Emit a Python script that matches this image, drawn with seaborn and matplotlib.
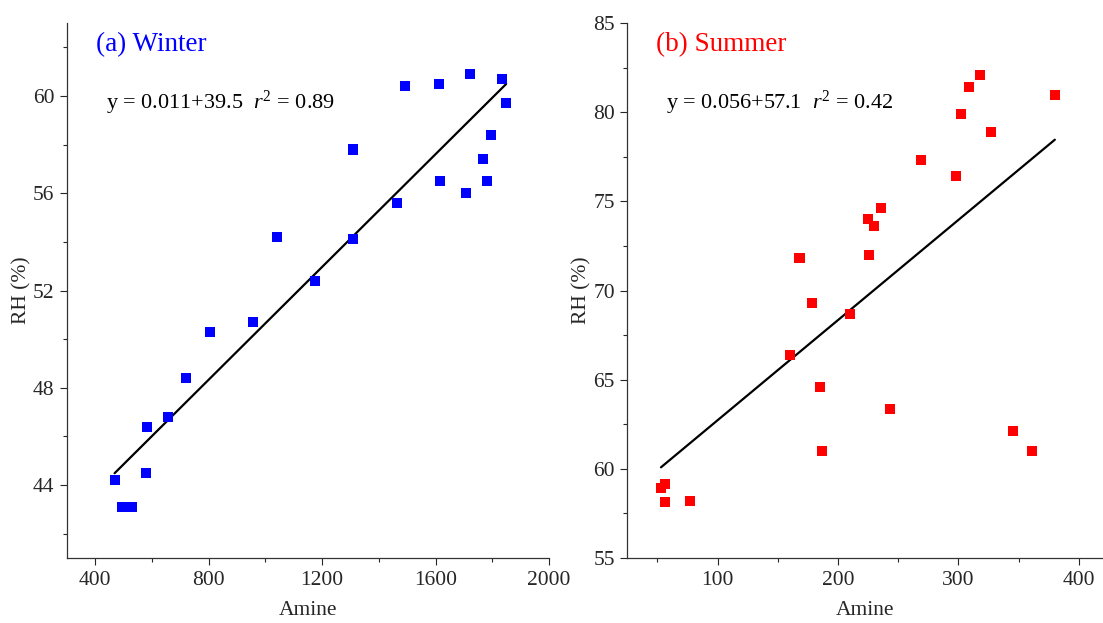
import matplotlib
matplotlib.use("Agg")
import matplotlib.pyplot as plt
import matplotlib.ticker as ticker
import pandas as pd
import seaborn as sns

# Winter: amine vs RH
winter_amine = [468, 495, 513, 530, 578, 584, 655, 719, 806, 957, 1041, 1176,
                1309, 1310, 1463, 1491, 1612, 1616, 1708, 1721, 1766, 1780,
                1795, 1835, 1849]
winter_rh = [44.2, 43.1, 43.1, 43.1, 44.5, 46.4, 46.8, 48.4, 50.3, 50.7, 54.2,
             52.4, 54.1, 57.8, 55.6, 60.4, 60.5, 56.5, 56.0, 60.9, 57.4, 56.5,
             58.4, 60.7, 59.7]

# Summer: amine vs RH
summer_amine = [53, 56, 56, 77, 160, 168, 178, 185, 187, 210, 225, 226, 230,
                236, 243, 269, 298, 302, 309, 318, 327, 345, 361, 380]
summer_rh = [58.9, 59.15, 58.15, 58.2, 66.4, 71.8, 69.3, 64.6, 61.0, 68.7,
             74.0, 72.0, 73.6, 74.65, 63.35, 77.3, 76.45, 79.9, 81.4, 82.1,
             78.9, 62.15, 61.0, 80.95]

winter_eq = "y = 0.011+39.5  $r^2$ = 0.89"
summer_eq = "y = 0.056+57.1  $r^2$ = 0.42"

sns.set_style("ticks")
plt.rcParams["font.family"] = ["Liberation Serif", "DejaVu Serif"]
plt.rcParams["mathtext.fontset"] = "custom"
plt.rcParams["mathtext.rm"] = "Liberation Serif"
plt.rcParams["mathtext.it"] = "Liberation Serif:italic"
plt.rcParams["xtick.direction"] = "out"
plt.rcParams["ytick.direction"] = "out"

fig = plt.figure(figsize=(11.03, 6.23), dpi=100)
ax1 = fig.add_axes([0.0607, 0.1043, 0.437, 0.8587])
ax2 = fig.add_axes([0.5687, 0.1043, 0.4313, 0.8587])

panels = [
    (ax1, winter_amine, winter_rh, "#0000FF", "(a) Winter", winter_eq,
     (300, 2000), (41, 63), 400, 200, 4, 2),
    (ax2, summer_amine, summer_rh, "#FF0000", "(b) Summer", summer_eq,
     (25, 420), (55, 85), 100, 50, 5, 2.5),
]

for ax, xs, ys, color, title, eq, xlim, ylim, xmaj, xmin, ymaj, ymin in panels:
    df = pd.DataFrame({"Amine": xs, "RH": ys})
    sns.regplot(data=df, x="Amine", y="RH", ax=ax, scatter=False, ci=None,
                line_kws={"color": "black", "lw": 1.6})
    sns.scatterplot(data=df, x="Amine", y="RH", ax=ax, marker="s", s=52,
                    color=color, edgecolor="none", linewidth=0, zorder=3)
    ax.set_xlim(*xlim)
    ax.set_ylim(*ylim)
    ax.xaxis.set_major_locator(ticker.MultipleLocator(xmaj))
    ax.xaxis.set_minor_locator(ticker.MultipleLocator(xmin))
    ax.yaxis.set_major_locator(ticker.MultipleLocator(ymaj))
    ax.yaxis.set_minor_locator(ticker.MultipleLocator(ymin))
    ax.tick_params(which="major", length=5, width=0.8, labelsize=15.5, pad=4)
    ax.tick_params(which="minor", length=3, width=0.8)
    ax.set_xlabel("Amine", fontsize=15.5, labelpad=8)
    ax.set_ylabel("RH (%)", fontsize=15.5, labelpad=1)
    for s in ("left", "bottom"):
        ax.spines[s].set_color("#333333")
        ax.spines[s].set_linewidth(0.9)
    sns.despine(ax=ax)
    ax.text(0.06, 0.96, title, transform=ax.transAxes, color=color,
            fontsize=19.5, va="center", ha="left")
    ax.text(0.082, 0.85, eq, transform=ax.transAxes, color="black",
            fontsize=16, va="center", ha="left")

fig.savefig("out.png", dpi=100)
